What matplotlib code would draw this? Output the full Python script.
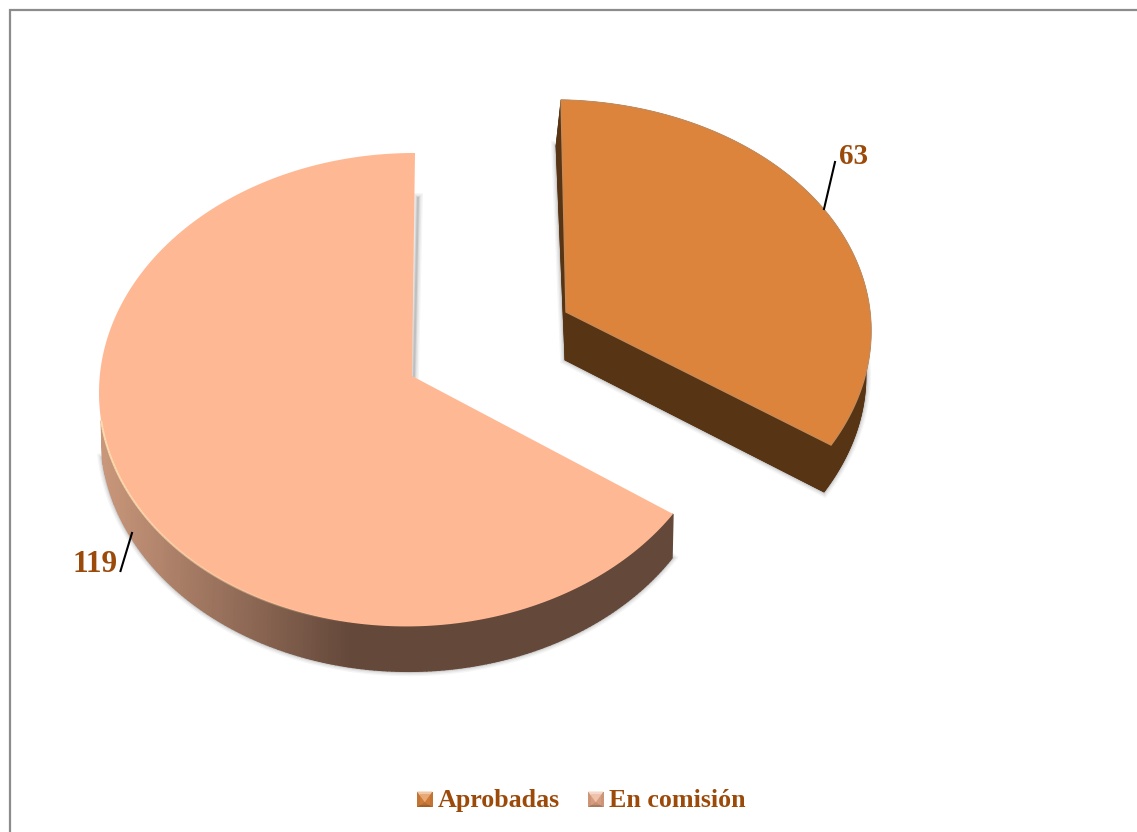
import numpy as np
import matplotlib
matplotlib.use("Agg")
import matplotlib.pyplot as plt
from matplotlib.patches import Polygon, Rectangle
from matplotlib.colors import to_rgb

categories = ["Aprobadas", "En comisión"]
values = [63, 119]
top_colors = ["#DD843C", "#FFB894"]
text_color = "#9C4A0A"
serif = ["Liberation Serif", "DejaVu Serif"]

fig = plt.figure(figsize=(11.37, 8.32), dpi=100, facecolor="white")
ax = fig.add_axes([0, 0, 1, 1])
ax.set_xlim(0, 1137)
ax.set_ylim(832, 0)
ax.axis("off")


def homography(src, dst):
    A, b = [], []
    for (x, y), (u, v) in zip(src, dst):
        A.append([x, y, 1, 0, 0, 0, -u * x, -u * y])
        b.append(u)
        A.append([0, 0, 0, x, y, 1, -v * x, -v * y])
        b.append(v)
    h = np.linalg.solve(np.array(A, float), np.array(b, float))
    return np.append(h, 1).reshape(3, 3)


def project(H, pts):
    pts = np.asarray(pts, float)
    q = np.c_[pts, np.ones(len(pts))] @ H.T
    return q[:, :2] / q[:, 2:]


def circle(t):
    return np.c_[np.sin(t), np.cos(t)]


total = sum(values)
split = 2 * np.pi * values[0] / total
end_pt = tuple(circle(np.array([split]))[0])
p60 = tuple(circle(np.array([np.pi / 3]))[0])

or_src = [(0, 1), end_pt, (1, 0), p60]
bg_src = [(0, 1), end_pt, (-1, 0), (0, -1)]

# Projection anchors: unit-circle point -> picture position
H_or_top = homography(or_src, [(561, 100), (831, 445), (871, 332), (838, 228)])
H_or_low = homography(or_src, [(556, 146), (824, 492), (866, 377), (833, 274)])
H_bg_top = homography(bg_src, [(415, 153), (673, 514), (99, 395), (425, 626)])
H_bg_low = homography(bg_src, [(418, 198), (672, 558), (101, 432), (425, 671)])

apex_or_top, apex_or_low = (566, 312), (565, 360)
apex_bg_top, apex_bg_low = (412, 376), (411, 422)

t_or = np.linspace(0, split, 160)
t_bg = np.linspace(split, 2 * np.pi, 300)


def sector(H, t, apex):
    return np.vstack([[apex], project(H, circle(t))])


# soft shadows
t_vis = t_bg[t_bg < np.radians(264)]
for w, a in [(7, 0.05), (5, 0.07), (3, 0.10), (1.5, 0.14)]:
    xy = project(H_bg_low, circle(t_vis))
    ax.plot(xy[:, 0], xy[:, 1], color="#404040", lw=w, alpha=a, zorder=1)
    xy = sector(H_or_low, t_or, apex_or_low)
    ax.add_patch(Polygon(xy, closed=True, fc="none", ec="#404040", lw=w, alpha=a, zorder=1))
    xy = project(H_bg_top, [(0, 1)])[0]
    ax.plot([xy[0] + 3, apex_bg_top[0] + 2], [xy[1] + 45, apex_bg_top[1]],
            color="#404040", lw=w, alpha=a, zorder=1)

# orange slice: walls
dark = "#573414"
lo = sector(H_or_low, t_or, apex_or_low)
up = sector(H_or_top, t_or, apex_or_top)
ax.add_patch(Polygon(lo, closed=True, fc=dark, ec=dark, lw=0.5, zorder=2))
ax.add_patch(Polygon(np.vstack([up[[0, -1]], lo[[-1, 0]]]), closed=True, fc=dark, ec=dark, lw=0.5, zorder=2))
ax.add_patch(Polygon(np.vstack([up[[0, 1]], lo[[1, 0]]]), closed=True, fc=dark, ec=dark, lw=0.5, zorder=2))
ax.add_patch(Polygon(np.vstack([up[1:], lo[:0:-1]]), closed=True, fc=dark, ec=dark, lw=0.5, zorder=2))
ax.add_patch(Polygon(up, closed=True, fc=top_colors[0], ec="#C98A55", lw=1, zorder=3))

# large slice: outer wall with shading
up_b = project(H_bg_top, circle(t_vis))
lo_b = project(H_bg_low, circle(t_vis))
c_light = np.array(to_rgb("#C8967A"))
c_dark = np.array(to_rgb("#64483A"))
for i in range(len(t_vis) - 1):
    xm = 0.5 * (up_b[i, 0] + up_b[i + 1, 0])
    f = np.clip((xm - 105) / (350 - 105), 0, 1)
    col = c_light * (1 - f) + c_dark * f
    ax.add_patch(Polygon([up_b[i], up_b[i + 1], lo_b[i + 1], lo_b[i]], closed=True,
                         fc=col, ec=col, lw=1, zorder=2))
ax.add_patch(Polygon(sector(H_bg_top, t_bg, apex_bg_top), closed=True, fc=top_colors[1], ec="none", zorder=3))
rim = up_b[t_vis > np.pi]
for i in range(len(rim) - 1):
    fade = np.clip((rim[i, 0] - 100) / 260, 0, 1)
    ax.plot(rim[i:i + 2, 0], rim[i:i + 2, 1], color="#FFE2B4", lw=1.4, alpha=0.9 * (1 - fade),
            zorder=4, solid_capstyle="butt")

# leader lines and value labels
ax.plot([824, 835], [209, 162], color="black", lw=1.5, zorder=5)
ax.plot([120.5, 132], [571, 533], color="black", lw=1.5, zorder=5)
ax.text(854, 164, str(values[0]), color=text_color, fontsize=21, family=serif,
        weight="bold", ha="center", va="baseline", zorder=6)
ax.text(95, 572, str(values[1]), color=text_color, fontsize=22.5, family=serif,
        weight="bold", ha="center", va="baseline", zorder=6)


# legend
def swatch(x, y, s, base):
    c = np.array(to_rgb(base))
    light = c + (1 - c) * 0.55
    shade = c * 0.72
    mid = c * 0.88
    cx, cy = x + s / 2, y + s / 2
    b = 2.5
    ax.add_patch(Rectangle((x, y), s, s, fc=mid, ec="none", zorder=5))
    ax.add_patch(Polygon([(x, y), (x + s, y), (cx, cy + 3)], closed=True, fc=light, ec="none", zorder=6))
    ax.add_patch(Polygon([(x, y + s), (x + s, y + s), (cx, cy + 3)], closed=True, fc=shade, ec="none", zorder=6))
    ax.add_patch(Rectangle((x + b, y + b), s - 2 * b, s - 2 * b, fc=c, ec="none", alpha=0.45, zorder=7))


swatch(417, 791.5, 15.5, top_colors[0])
swatch(588, 791.5, 15.5, "#E8A888")
ax.text(438, 807, categories[0], color=text_color, fontsize=18.7, family=serif,
        weight="bold", ha="left", va="baseline", zorder=6)
ax.text(609, 807, categories[1], color=text_color, fontsize=18.7, family=serif,
        weight="bold", ha="left", va="baseline", zorder=6)

# frame
ax.plot([9.5, 9.5, 1137], [832, 10, 10], color="#8C8C8C", lw=1.6, solid_joinstyle="miter", zorder=8)

fig.savefig("out.png", dpi=100, facecolor="white")
